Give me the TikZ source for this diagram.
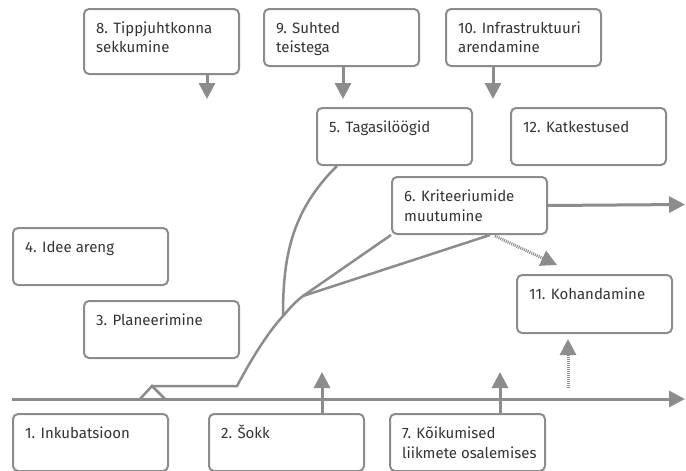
\documentclass[tikz,border=0pt]{standalone}
\usepackage{fontspec}
\setmainfont{Fira Sans}
\usetikzlibrary{arrows.meta,calc}
\definecolor{ln}{HTML}{8C8C8C}
\definecolor{tx}{HTML}{333333}
\begin{document}
\begin{tikzpicture}[x=1pt,y=-1pt,
  box/.style={draw=ln, line width=2pt, rounded corners=5pt, minimum width=155pt,
    minimum height=57pt, anchor=north west, inner sep=0pt},
  lbl/.style={anchor=base west, inner sep=0pt, text=tx, font=\fontsize{15}{20}\selectfont},
  conn/.style={draw=ln, line width=2.5pt},
  arr/.style={draw=ln, line width=3pt, -{Triangle[width=16pt,length=16pt]}},
  dotarr/.style={arr, dash pattern=on 1pt off 1pt}]
\useasboundingbox (0,0) rectangle (686,471);
% boxes
\node[box, minimum height=65pt] (b8) at (83,8) {};
\node[box] (b9) at (263,8) {};
\node[box] (b10) at (445,8) {};
\node[box] (b5) at (316,107) {};
\node[box] (b12) at (510,107) {};
\node[box] (b6) at (391,176) {};
\node[box] (b4) at (12,227) {};
\node[box] (b3) at (83,300) {};
\node[box, minimum height=58pt] (b11) at (516,274) {};
\node[box] (b1) at (12,413) {};
\node[box] (b2) at (208,413) {};
\node[box] (b7) at (389,413) {};
% labels
\newcommand\boxtext[2]{\node[lbl] (t#1) at ($(b#1.north west)+(13,25)$)
  {\parbox[t]{145pt}{\raggedright #2}};}
\boxtext{8}{8. Tippjuhtkonna\\sekkumine}
\boxtext{9}{9. Suhted\\teistega}
\boxtext{10}{10. Infrastruktuuri\\arendamine}
\boxtext{5}{5. Tagasilöögid}
\boxtext{12}{12. Katkestused}
\boxtext{6}{6. Kriteeriumide\\muutumine}
\boxtext{4}{4. Idee areng}
\boxtext{3}{3. Planeerimine}
\boxtext{11}{11. Kohandamine}
\boxtext{1}{1. Inkubatsioon}
\boxtext{2}{2. Šokk}
\boxtext{7}{7. Kõikumised\\liikmete osalemises}
% coordinates
\coordinate (a8) at (207,99);
\coordinate (a9) at (343,99);
\coordinate (a10) at (493,99);
\coordinate (tl0) at (12,399);
\coordinate (tl1) at (685,399);
\coordinate (a6) at (685,204.5);
\coordinate (u2) at (322,372);
\coordinate (u7) at (500,372);
\coordinate (d0) at (568,388);
\coordinate (d1) at (568,339);
\coordinate (e1) at (557,265);
\coordinate (k0) at (140,399);
\coordinate (k1) at (152,386);
\coordinate (k2) at (165,399);
\coordinate (c0) at (237,386);
\coordinate (j1) at (283,316);
\coordinate (j2) at (303,296);
% connectors
\draw[arr] (b8.south -| a8) -- (a8);
\draw[arr] (b9.south -| a9) -- (a9);
\draw[arr] (b10.south -| a10) -- (a10);
\draw[arr] (tl0) -- (tl1);
\draw[arr] (b6.east) -- (a6);
\draw[arr] (b2.north -| u2) -- (u2);
\draw[arr] (b7.north -| u7) -- (u7);
\draw[dotarr] (d0) -- (d1);
\draw[dotarr] ($(b6.south west)+(104,1)$) -- (e1);
\draw[conn, line join=miter] (k0) -- (k1) -- (k2);
\draw[conn] (k1) -- (c0) .. controls (250,362) and (265,336) .. (j1)
  .. controls (290,308) and (295,302) .. (j2) -- (b6.south west);
\draw[conn] (j2) -- ($(b6.south west)+(99,0)$);
\draw[conn] (j1) .. controls (283,260) and (290,212) .. ($(b5.south west)+(21,0)$);
\end{tikzpicture}
\end{document}
